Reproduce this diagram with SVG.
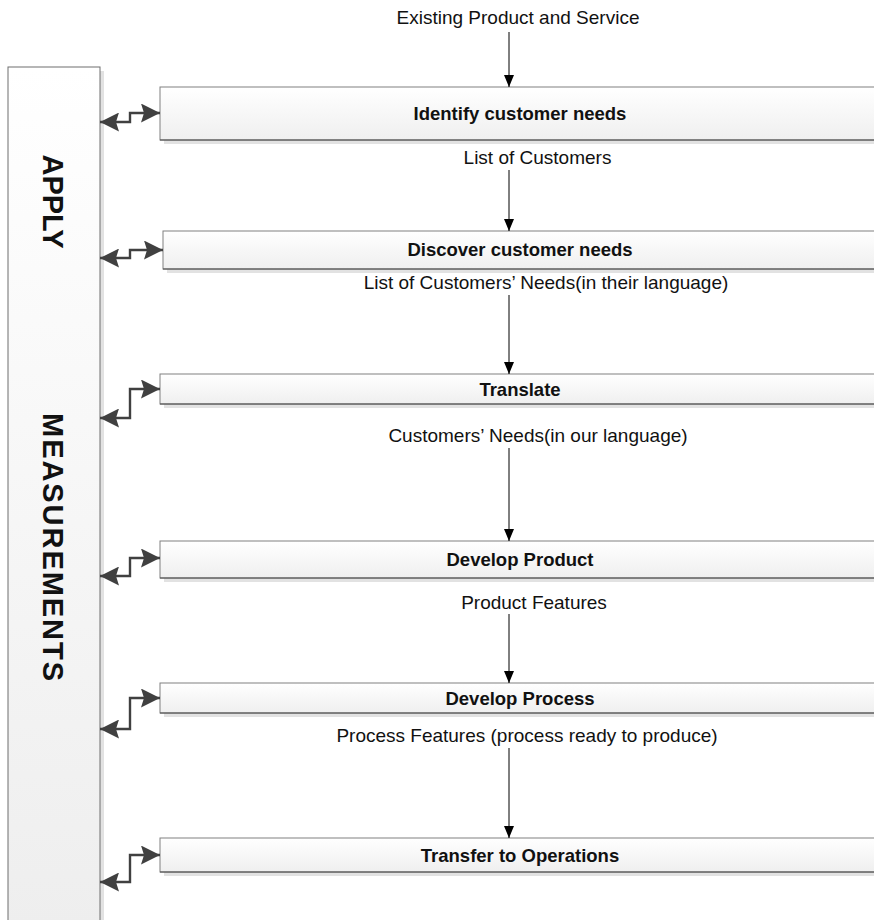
<svg xmlns="http://www.w3.org/2000/svg" width="874" height="920" viewBox="0 0 874 920">
  <style>
    .box { stroke: #808080; stroke-width: 1; fill: url(#boxFill); }
    .edge { stroke: #4a4a4a; stroke-width: 1.2; }
    .side { stroke: #6e6e6e; stroke-width: 1; fill: url(#sideFill); }
    .shadow { fill: #e2e2e2; }
    .title { font-family: "Liberation Sans", Arial, sans-serif; font-weight: bold; font-size: 18.5px; fill: #111; text-anchor: middle; }
    .label { font-family: "Liberation Sans", Arial, sans-serif; font-size: 19px; fill: #111; text-anchor: middle; }
    .vert { font-family: "Liberation Sans", Arial, sans-serif; font-weight: bold; font-size: 29px; fill: #111; text-anchor: middle; }
    .link { fill: none; stroke: #404040; stroke-width: 2.4; marker-start: url(#bigHead); marker-end: url(#bigHead); }
    .flow { fill: none; stroke: #000; stroke-width: 1; marker-end: url(#smallHead); }
  </style>
  <defs>
    <linearGradient id="boxFill" x1="0" y1="0" x2="0" y2="1">
      <stop offset="0" stop-color="#ffffff"/>
      <stop offset="1" stop-color="#efefef"/>
    </linearGradient>
    <linearGradient id="sideFill" x1="0" y1="0" x2="0" y2="1">
      <stop offset="0" stop-color="#ffffff"/>
      <stop offset="1" stop-color="#eeeeee"/>
    </linearGradient>
    <marker id="bigHead" viewBox="0 0 19 19" refX="19" refY="9.5" markerWidth="19" markerHeight="19" markerUnits="userSpaceOnUse" orient="auto-start-reverse">
      <path d="M0,0 L19,9.5 L0,19 L3,9.5 z" fill="#404040"/>
    </marker>
    <marker id="smallHead" viewBox="0 0 12 10" refX="12" refY="5" markerWidth="12" markerHeight="10" markerUnits="userSpaceOnUse" orient="auto">
      <path d="M0,0 L12,5 L0,10 z" fill="#000"/>
    </marker>
  </defs>

  <rect width="874" height="920" fill="#ffffff"/>

  <!-- side panel -->
  <g id="apply-measurements">
    <rect class="shadow" x="12" y="71" width="92" height="860"/>
    <rect class="side" x="8" y="67" width="92" height="860"/>
    <text class="vert" transform="translate(43,201.5) rotate(90)">APPLY</text>
    <text class="vert" transform="translate(43,547) rotate(90)" textLength="268">MEASUREMENTS</text>
  </g>

  <!-- process steps -->
  <g id="identify">
    <rect class="shadow" x="164" y="91" width="720" height="53"/>
    <rect class="box" x="160" y="87" width="720" height="53"/>
    <line class="edge" x1="160" y1="140" x2="880" y2="140"/>
    <text class="title" x="520" y="120">Identify customer needs</text>
  </g>
  <g id="discover">
    <rect class="shadow" x="167" y="235" width="720" height="38"/>
    <rect class="box" x="163" y="231" width="720" height="38"/>
    <line class="edge" x1="163" y1="269" x2="883" y2="269"/>
    <text class="title" x="520" y="256">Discover customer needs</text>
  </g>
  <g id="translate">
    <rect class="shadow" x="164" y="378" width="720" height="30"/>
    <rect class="box" x="160" y="374" width="720" height="30"/>
    <line class="edge" x1="160" y1="404" x2="880" y2="404"/>
    <text class="title" x="520" y="395.5">Translate</text>
  </g>
  <g id="develop-product">
    <rect class="shadow" x="164" y="545" width="720" height="37"/>
    <rect class="box" x="160" y="541" width="720" height="37"/>
    <line class="edge" x1="160" y1="578" x2="880" y2="578"/>
    <text class="title" x="520" y="566">Develop Product</text>
  </g>
  <g id="develop-process">
    <rect class="shadow" x="164" y="687" width="720" height="30"/>
    <rect class="box" x="160" y="683" width="720" height="30"/>
    <line class="edge" x1="160" y1="713" x2="880" y2="713"/>
    <text class="title" x="520" y="704.5">Develop Process</text>
  </g>
  <g id="transfer">
    <rect class="shadow" x="164" y="842" width="720" height="34"/>
    <rect class="box" x="160" y="838" width="720" height="34"/>
    <line class="edge" x1="160" y1="872" x2="880" y2="872"/>
    <text class="title" x="520" y="861.5">Transfer to Operations</text>
  </g>

  <!-- flow labels -->
  <g id="labels">
    <text class="label" x="518" y="24">Existing Product and Service</text>
    <text class="label" x="537.5" y="164">List of Customers</text>
    <text class="label" x="546" y="289">List of Customers’ Needs(in their language)</text>
    <text class="label" x="538" y="442">Customers’ Needs(in our language)</text>
    <text class="label" x="534" y="609">Product Features</text>
    <text class="label" x="527" y="742">Process Features (process ready to produce)</text>
  </g>

  <g id="connectors">
    <!-- main downward flow -->
    <path class="flow" d="M509,32 V87"/>
    <path class="flow" d="M509,170 V231"/>
    <path class="flow" d="M509,295 V374"/>
    <path class="flow" d="M509,448 V541"/>
    <path class="flow" d="M509,614 V683"/>
    <path class="flow" d="M509,748 V838"/>
    <!-- two-way links to the side panel -->
    <path class="link" d="M100,122 H130 V113 H160"/>
    <path class="link" d="M100,258 H130 V250 H163"/>
    <path class="link" d="M100,418 H130 V389 H160"/>
    <path class="link" d="M100,576 H130 V558 H160"/>
    <path class="link" d="M100,729 H130 V698 H160"/>
    <path class="link" d="M100,882 H130 V855 H160"/>
  </g>
</svg>
